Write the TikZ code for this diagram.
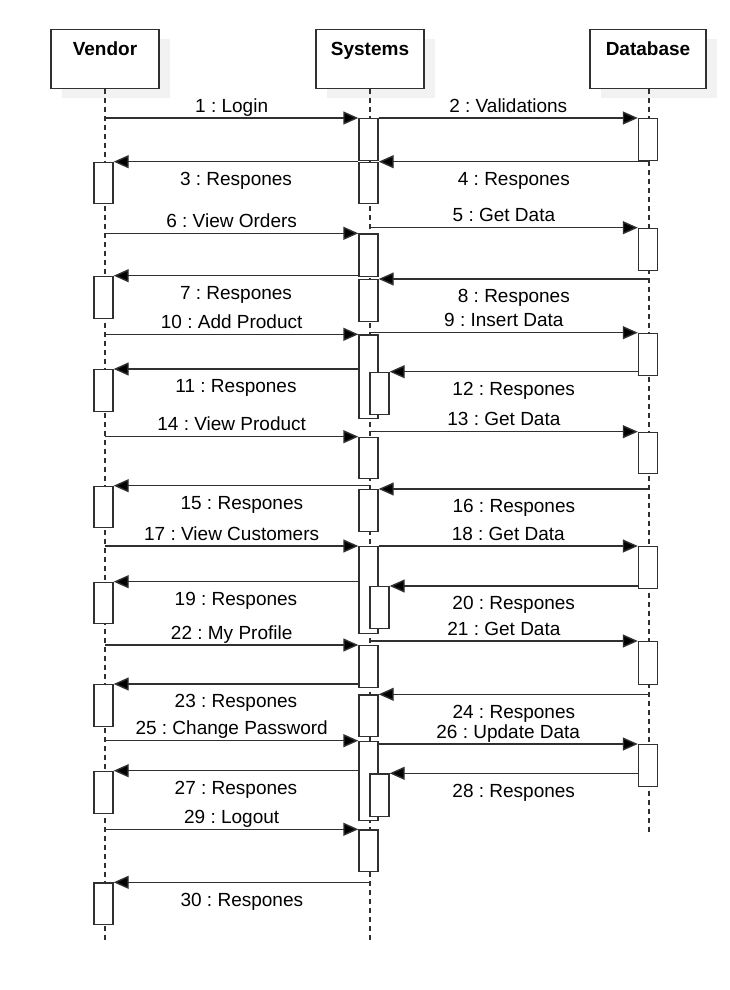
\documentclass[tikz,border=0pt]{standalone}
\usepackage{fontspec}
\setmainfont{Liberation Sans}
\usepackage{xcolor}
\usepackage{tikz}
\usetikzlibrary{arrows.meta,shadows,positioning}
\definecolor{ink}{HTML}{303030}
\definecolor{shade}{HTML}{F2F2F2}
\frenchspacing
\tikzset{
  head/.style={
    draw=ink, line width=1.4pt, fill=white,
    minimum width=108pt, inner xsep=0pt, inner ysep=13.4pt,
    text height=13.3pt, text depth=18.9pt,
    font=\fontsize{19}{22}\selectfont\bfseries,
    drop shadow={shadow xshift=11pt, shadow yshift=-10pt, fill=shade, opacity=1}
  },
  lifeline/.style={draw=ink, line width=1.3pt, dash pattern=on 5pt off 4pt},
  act/.style={draw=ink, line width=1.4pt, fill=white, minimum width=19pt, inner sep=0pt, anchor=north},
  msg/.style={draw=ink, line width=1.4pt, -{Triangle[length=15pt,width=13pt,fill=black]}},
  callLbl/.style={midway, anchor=base, yshift=6pt, inner sep=0pt, font=\fontsize{19}{22}\selectfont},
  backLbl/.style={midway, anchor=base, yshift=-23.7pt, inner sep=0pt, font=\fontsize{19}{22}\selectfont}
}
\newcommand{\Act}[4]{%
  % #1 = name, #2 = x of lifeline, #3 = top, #4 = height
  \node[act, minimum height=#4pt] (#1) at (#2,#3) {};%
}

\begin{document}
\begin{tikzpicture}[x=1pt, y=-1pt, line cap=butt]
  \useasboundingbox (0,0) rectangle (729,990);

  % heads of the three lifelines
  \node[head] (vendor) at (105,58.8) {Vendor};
  \node[head] (systems) at (370,58.8) {Systems};
  \node[head, minimum width=116pt] (database) at (648,58.8) {Database};

  \coordinate (vendorEnd) at (105,940);
  \coordinate (systemsEnd) at (370,940);
  \coordinate (databaseEnd) at (649,832);
  \draw[lifeline] (vendor) -- (vendorEnd);
  \draw[lifeline] (systems) -- (systemsEnd);
  \draw[lifeline] (database.south -| databaseEnd) -- (databaseEnd);

  % activations: Vendor
  \Act{v1}{103.5}{161.7}{41.3}
  \Act{v2}{103.5}{275.7}{42.3}
  \Act{v3}{103.5}{369}{41.7}
  \Act{v4}{103.5}{485.7}{41.3}
  \Act{v5}{103.5}{581.7}{41.3}
  \Act{v6}{103.5}{684}{42}
  \Act{v7}{103.5}{770.7}{42}
  \Act{v8}{103.5}{882.3}{41.7}

  % activations: Systems (s6, s10, s14 nested)
  \Act{s1}{368.5}{118}{42}
  \Act{s2}{368.5}{161.7}{41.3}
  \Act{s3}{368.5}{233.3}{42.7}
  \Act{s4}{368.5}{279}{41.7}
  \Act{s5}{368.5}{334.3}{83.7}
  \Act{s6}{379.5}{371.7}{42.3}
  \Act{s7}{368.5}{436.7}{41.3}
  \Act{s8}{368.5}{489}{41.7}
  \Act{s9}{368.5}{546}{86.7}
  \Act{s10}{379.5}{586}{42}
  \Act{s11}{368.5}{645}{42}
  \Act{s12}{368.5}{694.3}{41.4}
  \Act{s13}{368.5}{740.7}{79.3}
  \Act{s14}{379.5}{773.3}{42.7}
  \Act{s15}{368.5}{829.3}{41.7}

  % activations: Database
  \Act{d1}{648}{118}{42}
  \Act{d2}{648}{227.7}{42.3}
  \Act{d3}{648}{332.7}{42.3}
  \Act{d4}{648}{431.7}{41.3}
  \Act{d5}{648}{546}{41.7}
  \Act{d6}{648}{641}{42.7}
  \Act{d7}{648}{744}{41.7}

  % messages
  \draw[msg] (s1.north west -| vendor) -- (s1.north west) node[callLbl] {1 : Login};
  \draw[msg] (s1.north east) -- (d1.north west) node[callLbl] {2 : Validations};
  \draw[msg] (v1.north east -| s2.west) -- (v1.north east) node[backLbl] {3 : Respones};
  \draw[msg] (s2.north east -| databaseEnd) -- (s2.north east) node[backLbl] {4 : Respones};
  \draw[msg] (d2.north west -| systems) -- (d2.north west) node[callLbl] {5 : Get Data};
  \draw[msg] (s3.north west -| vendor) -- (s3.north west) node[callLbl] {6 : View Orders};
  \draw[msg] (v2.north east -| s3.west) -- (v2.north east) node[backLbl] {7 : Respones};
  \draw[msg] (s4.north east -| databaseEnd) -- (s4.north east) node[backLbl] {8 : Respones};
  \draw[msg] (d3.north west -| systems) -- (d3.north west) node[callLbl] {9 : Insert Data};
  \draw[msg] (s5.north west -| vendor) -- (s5.north west) node[callLbl] {10 : Add Product};
  \draw[msg] (v3.north east -| s5.west) -- (v3.north east) node[backLbl] {11 : Respones};
  \draw[msg] (s6.north east -| d3.west) -- (s6.north east) node[backLbl] {12 : Respones};
  \draw[msg] (d4.north west -| systems) -- (d4.north west) node[callLbl] {13 : Get Data};
  \draw[msg] (s7.north west -| vendor) -- (s7.north west) node[callLbl] {14 : View Product};
  \draw[msg] (v4.north east -| systems) -- (v4.north east) node[backLbl] {15 : Respones};
  \draw[msg] (s8.north east -| databaseEnd) -- (s8.north east) node[backLbl] {16 : Respones};
  \draw[msg] (s9.north west -| vendor) -- (s9.north west) node[callLbl] {17 : View Customers};
  \draw[msg] (d5.north west -| s9.east) -- (d5.north west) node[callLbl] {18 : Get Data};
  \draw[msg] (v5.north east -| s9.west) -- (v5.north east) node[backLbl] {19 : Respones};
  \draw[msg] (s10.north east -| d5.west) -- (s10.north east) node[backLbl] {20 : Respones};
  \draw[msg] (d6.north west -| systems) -- (d6.north west) node[callLbl] {21 : Get Data};
  \draw[msg] (s11.north west -| vendor) -- (s11.north west) node[callLbl] {22 : My Profile};
  \draw[msg] (v6.north east -| s11.west) -- (v6.north east) node[backLbl] {23 : Respones};
  \draw[msg] (s12.north east -| databaseEnd) -- (s12.north east) node[backLbl] {24 : Respones};
  \draw[msg] (s13.north west -| vendor) -- (s13.north west) node[callLbl] {25 : Change Password};
  \draw[msg] (d7.north west -| s13.east) -- (d7.north west) node[callLbl] {26 : Update Data};
  \draw[msg] (v7.north east -| s13.west) -- (v7.north east) node[backLbl] {27 : Respones};
  \draw[msg] (s14.north east -| d7.west) -- (s14.north east) node[backLbl] {28 : Respones};
  \draw[msg] (s15.north west -| vendor) -- (s15.north west) node[callLbl] {29 : Logout};
  \draw[msg] (v8.north east -| systems) -- (v8.north east) node[backLbl] {30 : Respones};
\end{tikzpicture}
\end{document}
